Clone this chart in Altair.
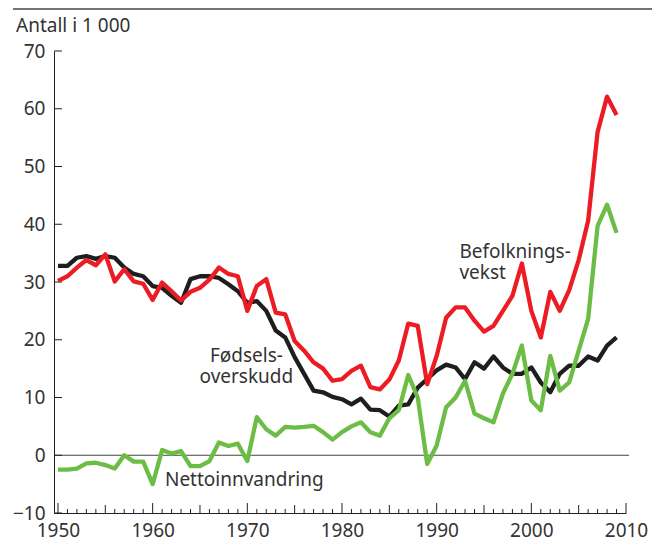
import altair as alt
import pandas as pd

years = list(range(1950, 2010))

befolkningsvekst = [30.2, 31.0, 32.5, 33.8, 32.9, 34.8, 30.1, 32.2, 30.1, 29.7,
                    26.9, 29.9, 28.4, 26.8, 28.3, 29.0, 30.4, 32.5, 31.4, 31.0,
                    25.0, 29.3, 30.5, 24.7, 24.4, 19.8, 18.1, 16.1, 15.0, 12.9,
                    13.2, 14.6, 15.5, 11.8, 11.4, 13.1, 16.4, 22.8, 22.4, 12.3,
                    17.2, 23.8, 25.6, 25.6, 23.3, 21.4, 22.4, 25.0, 27.6, 33.2,
                    25.0, 20.4, 28.3, 25.0, 28.6, 33.8, 40.6, 56.0, 62.1, 58.9]

fodselsoverskudd = [32.8, 32.8, 34.2, 34.5, 34.0, 34.5, 34.2, 32.5, 31.4, 31.0,
                    29.3, 29.0, 27.6, 26.4, 30.5, 31.0, 31.0, 30.7, 29.6, 28.4,
                    26.4, 26.7, 25.0, 21.6, 20.4, 17.0, 14.1, 11.2, 10.9, 10.1,
                    9.7, 8.8, 9.8, 7.9, 7.8, 6.7, 8.6, 8.8, 11.7, 13.2,
                    14.7, 15.7, 15.2, 13.2, 16.1, 15.0, 17.1, 15.2, 14.1, 14.1,
                    15.2, 12.6, 10.9, 14.1, 15.5, 15.5, 17.1, 16.4, 19.0, 20.4]

nettoinnvandring = [-2.5, -2.5, -2.3, -1.4, -1.3, -1.7, -2.3, 0.0, -1.1, -1.1,
                    -5.0, 0.9, 0.3, 0.7, -1.9, -1.9, -1.0, 2.2, 1.6, 2.0,
                    -1.0, 6.6, 4.5, 3.4, 4.9, 4.8, 4.9, 5.1, 4.0, 2.7,
                    4.0, 5.0, 5.7, 4.0, 3.4, 6.4, 7.8, 13.9, 10.0, -1.5,
                    1.7, 8.3, 10.0, 12.9, 7.2, 6.4, 5.7, 10.7, 14.1, 19.0,
                    9.5, 7.8, 17.2, 11.2, 12.6, 18.1, 23.6, 39.7, 43.4, 38.5]

x_tick_labels = [1950, 1960, 1970, 1980, 1990, 2000, 2010]
y_tick_labels = [-10, 0, 10, 20, 30, 40, 50, 60, 70]

label_texts = ["Befolknings-", "vekst", "Fødsels-", "overskudd", "Nettoinnvandring"]
label_x = [1992.4, 1992.4, 1969.9, 1969.9, 1961.3]
label_y = [35.2, 31.5, 17.2, 13.6, -4.3]
label_align = ["left", "left", "center", "center", "left"]

FONT = "Noto Sans"
TXT = "#333333"
AX = "#231f20"
FS = 19
W, H = 572, 462

xs = alt.Scale(domain=[1949.58, 2010], nice=False, zero=False)
ys = alt.Scale(domain=[-10, 70], nice=False, zero=False)

xaxis = alt.Axis(values=x_tick_labels, format="d", ticks=False, tickSize=0,
                 domain=True, domainColor=AX, domainWidth=1, grid=False,
                 labelPadding=8, labelFontSize=FS, labelFont=FONT,
                 labelColor=TXT, labelFlush=False, labelOverlap=False, title=None)
yaxis = alt.Axis(values=y_tick_labels, ticks=False, tickSize=0,
                 domain=True, domainColor=AX, domainWidth=1, grid=False,
                 labelPadding=9, labelFontSize=FS, labelFont=FONT,
                 labelColor=TXT, labelFlush=False, labelOverlap=False, title=None)


def X():
    return alt.X("x:Q", scale=xs, axis=xaxis)


def Y():
    return alt.Y("y:Q", scale=ys, axis=yaxis)


def series_df(vals):
    return pd.DataFrame({"x": years, "y": vals})


def line(vals, color):
    return alt.Chart(series_df(vals)).mark_line(
        color=color, strokeWidth=4.3, strokeJoin="round", strokeCap="butt"
    ).encode(x=X(), y=Y())


zero = alt.Chart(pd.DataFrame({"y": [0]})).mark_rule(color="#444444", strokeWidth=1).encode(
    y=Y(), x=alt.value(0), x2=alt.value(W + 3))

yt = alt.Chart(pd.DataFrame({"y": y_tick_labels})).mark_rule(color=AX, strokeWidth=1).encode(
    y=Y(), x=alt.value(0), x2=alt.value(8))

minor_years = [y for y in range(1951, 2011) if y % 5 != 0]
mid_years = [y for y in range(1955, 2011, 10)]
major_years = [y for y in range(1950, 2011, 10)]

xt_minor = alt.Chart(pd.DataFrame({"x": minor_years})).mark_rule(color=AX, strokeWidth=1).encode(
    x=X(), y=alt.value(H), y2=alt.value(H - 4))
xt_mid = alt.Chart(pd.DataFrame({"x": mid_years})).mark_rule(color=AX, strokeWidth=1).encode(
    x=X(), y=alt.value(H), y2=alt.value(H - 8))
xt_major = alt.Chart(pd.DataFrame({"x": major_years})).mark_rule(color=AX, strokeWidth=1).encode(
    x=X(), y=alt.value(H), y2=alt.value(H - 10))

lab = pd.DataFrame({"t": label_texts, "x": label_x, "y": label_y, "a": label_align})
lab_left = alt.Chart(lab[lab.a == "left"]).mark_text(
    align="left", baseline="middle", font=FONT, fontSize=FS, color=TXT).encode(
    x=X(), y=Y(), text="t:N")
lab_center = alt.Chart(lab[lab.a == "center"]).mark_text(
    align="center", baseline="middle", font=FONT, fontSize=FS, color=TXT).encode(
    x=X(), y=Y(), text="t:N")

title = alt.Chart(pd.DataFrame({"t": ["Antall i 1 000"]})).mark_text(
    align="left", baseline="middle", font=FONT, fontSize=FS, color=TXT).encode(
    text="t:N", x=alt.value(-38), y=alt.value(-25))

top_rule = alt.Chart(pd.DataFrame({"t": [1]})).mark_rule(color="#444444", strokeWidth=1.5).encode(
    x=alt.value(-41), x2=alt.value(598), y=alt.value(-42))

chart = alt.layer(
    zero, yt, xt_minor, xt_mid, xt_major,
    line(fodselsoverskudd, "#1e1e1e"),
    line(nettoinnvandring, "#6cbd45"),
    line(befolkningsvekst, "#ed1c24"),
    lab_left, lab_center, title, top_rule,
).properties(
    width=W, height=H,
    autosize=alt.AutoSizeParams(type="none"),
    padding={"left": 46, "top": 43, "right": 26, "bottom": 28},
).configure_view(stroke=None)

chart.save("out.html", embed_options={"renderer": "svg", "actions": False})
